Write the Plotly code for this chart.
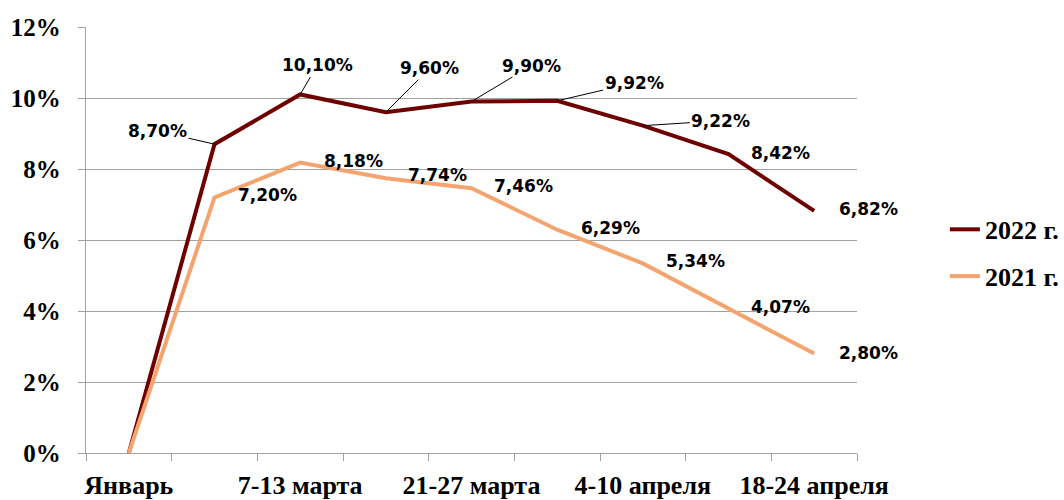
import plotly.graph_objects as go

# Weekly periods on the horizontal axis
periods = [
    "Январь",
    "28 февраля - 6 марта",
    "7-13 марта",
    "14-20 марта",
    "21-27 марта",
    "28 марта - 3 апреля",
    "4-10 апреля",
    "11-17 апреля",
    "18-24 апреля",
]
# Only every other period is labelled on the axis
shown_labels = ["Январь", "", "7-13 марта", "", "21-27 марта", "", "4-10 апреля", "", "18-24 апреля"]

# Values, percent
values_2022 = [0.00, 8.70, 10.10, 9.60, 9.90, 9.92, 9.22, 8.42, 6.82]
values_2021 = [0.00, 7.20, 8.18, 7.74, 7.46, 6.29, 5.34, 4.07, 2.80]

# Label offsets from each point (dx, dy in px, screen up = negative dy) and leader flag
offsets_2022 = [None, (-57, -13, True), (17, -29, True), (44, -44, True), (60, -36, True),
                (77, -18, True), (78, -5, True), (52, -1, False), (54, -2, False)]
offsets_2021 = [None, (53, -2, False), (53, -2, False), (52, -3, False), (52, -2, False),
                (53, -2, False), (53, -2, False), (52, -2, False), (54, -1, False)]

COLOR_2022 = "#6E0000"
COLOR_2021 = "#F4A46E"
GRID = "#A0A0A0"
SERIF = "Liberation Serif"
LABEL_FONT = dict(family="DejaVu Sans", size=17, color="black", weight="bold")

xs = list(range(len(periods)))

fig = go.Figure()
fig.add_trace(go.Scatter(
    x=xs, y=[v / 100 for v in values_2022], mode="lines", name="2022 г.",
    line=dict(color=COLOR_2022, width=4), legendgroup="a",
    customdata=periods, hovertemplate="%{customdata}: %{y:.2%}<extra>2022 г.</extra>",
))
fig.add_trace(go.Scatter(
    x=xs, y=[v / 100 for v in values_2021], mode="lines", name="2021 г.",
    line=dict(color=COLOR_2021, width=4), legendgroup="b",
    customdata=periods, hovertemplate="%{customdata}: %{y:.2%}<extra>2021 г.</extra>",
))


def pct_text(v):
    return f"{v:.2f}%".replace(".", ",")


annotations = []
for vals, offs in ((values_2022, offsets_2022), (values_2021, offsets_2021)):
    for i, (v, off) in enumerate(zip(vals, offs)):
        if off is None:
            continue
        dx, dy, leader = off
        if leader:
            annotations.append(dict(
                x=i, y=v / 100, xref="x", yref="y", text=pct_text(v), font=LABEL_FONT,
                showarrow=True, arrowhead=0, arrowwidth=1, arrowcolor="black",
                ax=dx, ay=dy, standoff=0,
            ))
        else:
            annotations.append(dict(
                x=i, y=v / 100, xref="x", yref="y", text=pct_text(v), font=LABEL_FONT,
                showarrow=False, xshift=dx, yshift=-dy,
            ))

fig.update_layout(
    width=1064, height=500,
    margin=dict(l=86, r=207, t=27, b=47, autoexpand=False),
    paper_bgcolor="white", plot_bgcolor="white",
    showlegend=True,
    legend=dict(
        x=1.114, y=0.58, xanchor="left", yanchor="top",
        font=dict(family=SERIF, size=26, color="black", weight="bold"),
        tracegroupgap=10, bgcolor="rgba(0,0,0,0)",
    ),
    annotations=annotations,
)

fig.update_xaxes(
    range=[-0.5, len(periods) - 0.5],
    tickvals=xs, ticktext=shown_labels, ticks="",
    minor=dict(tickvals=[i - 0.5 for i in range(len(periods) + 1)],
               ticks="outside", ticklen=7, tickcolor=GRID, tickwidth=1.3, showgrid=False),
    showgrid=False, showline=True, linecolor=GRID, linewidth=1.3,
    tickfont=dict(family=SERIF, size=26, color="black", weight="bold"),
    ticklabelstandoff=9, zeroline=False, automargin=False,
)
fig.update_yaxes(
    range=[0, 0.12], dtick=0.02, tickformat=".0%",
    ticks="outside", ticklen=7, tickcolor=GRID, tickwidth=1.3,
    showgrid=True, gridcolor=GRID, gridwidth=1.3,
    showline=True, linecolor=GRID, linewidth=1.3, zeroline=False,
    tickfont=dict(family=SERIF, size=25, color="black", weight="bold"),
    ticklabelstandoff=12, automargin=False,
)

fig.write_html("out.html")
